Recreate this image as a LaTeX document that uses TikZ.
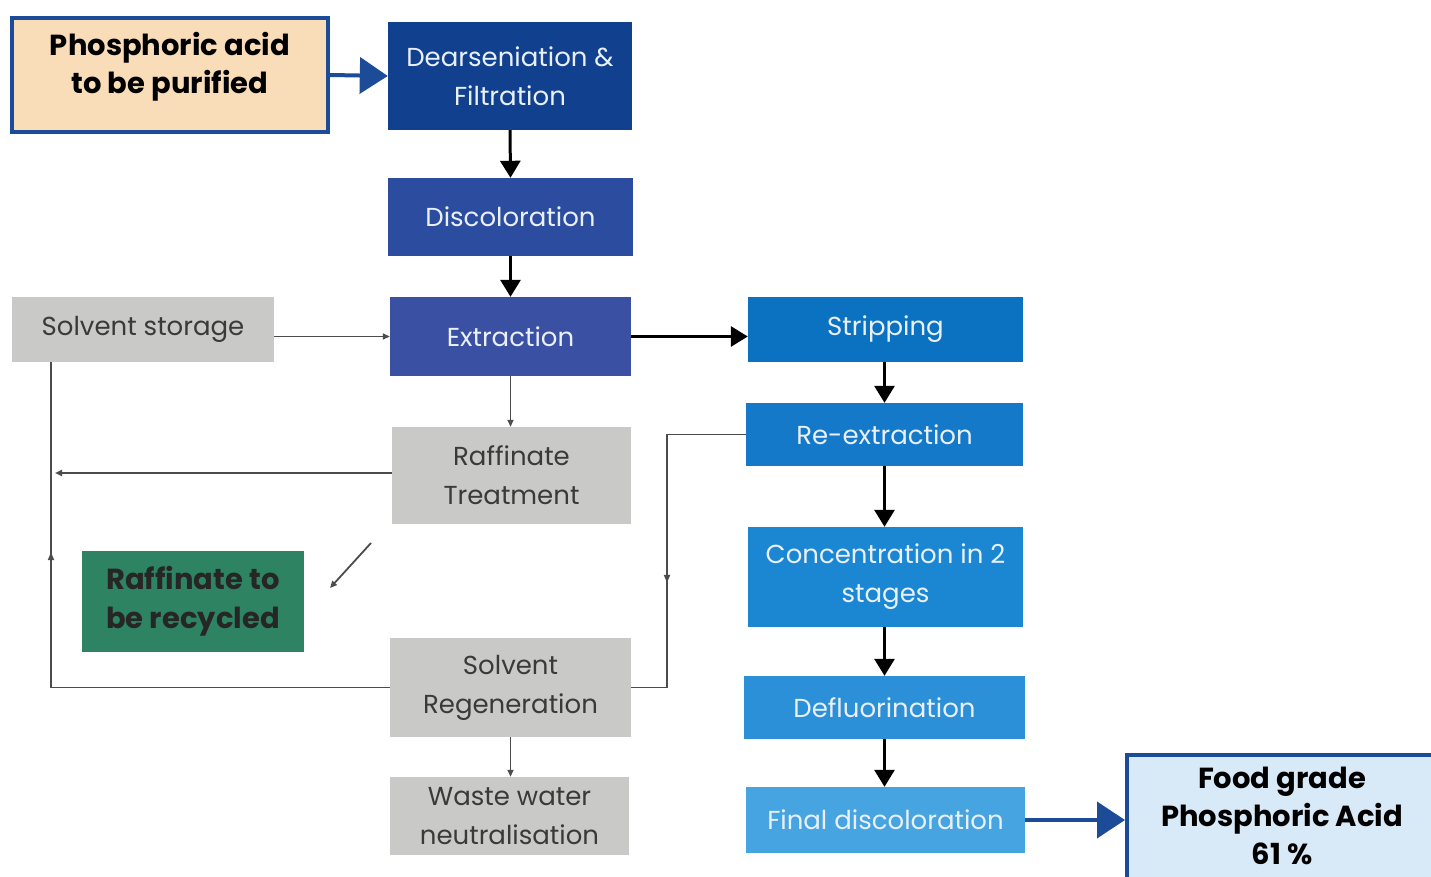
\documentclass[tikz,border=0pt]{standalone}
\usepackage{fontspec}
\setmainfont{Poppins}
\usetikzlibrary{arrows.meta,decorations.markings}
\definecolor{dkblue}{HTML}{1C4B98}
\definecolor{peach}{HTML}{F9DDB9}
\definecolor{cdear}{HTML}{10408E}
\definecolor{cdisc}{HTML}{2C4C9F}
\definecolor{cextr}{HTML}{3A50A2}
\definecolor{cgray}{HTML}{C9C9C7}
\definecolor{cgreen}{HTML}{2E8462}
\definecolor{cstrip}{HTML}{0B72C2}
\definecolor{creext}{HTML}{1479C8}
\definecolor{cconc}{HTML}{1B87D3}
\definecolor{cdefl}{HTML}{2B90D8}
\definecolor{cfinal}{HTML}{46A4E1}
\definecolor{cfood}{HTML}{D8E9F7}
\definecolor{gtext}{HTML}{3A3A3A}
\definecolor{ltext}{HTML}{EAF0FA}
\tikzset{
  box/.style={rectangle, inner sep=0pt, align=center, font=\fontsize{26}{39}\selectfont},
  bluebox/.style={box, text=ltext},
  graybox/.style={box, fill=cgray, text=gtext},
  keybox/.style={box, draw=dkblue, line width=4pt, text=black},
  keytext/.style={inner sep=0pt, align=center, text=black, font=\fontsize{29}{38}\selectfont\bfseries},
  thick arrow/.style={line width=3pt, -{Triangle[length=17pt,width=20pt]}},
  blue arrow/.style={line width=4pt, draw=dkblue, -{Triangle[length=28pt,width=36pt]}},
  thin line/.style={line width=1.8pt, draw=black!70},
  thin arrow/.style={thin line, -{Triangle[length=7pt,width=6pt]}},
  midarrow/.style={postaction={decorate}, decoration={markings, mark=at position #1 with {\arrow{Triangle[length=8pt,width=6pt]}}}}
}
\begin{document}
\begin{tikzpicture}[x=1pt,y=-1pt]
\useasboundingbox (0,0) rectangle (1431,877);
% nodes
\node[keybox, fill=peach, minimum width=316pt, minimum height=114pt] (phos) at (170,75) {};
\node[keytext] (phost) at (170,67) {Phosphoric acid\\to be purified};
\node[bluebox, fill=cdear, minimum width=244pt, minimum height=108pt] (dear) at (510,76) {Dearseniation \&\\Filtration};
\node[bluebox, fill=cdisc, minimum width=245pt, minimum height=78pt] (disc) at (510.5,217) {Discoloration};
\node[bluebox, fill=cextr, minimum width=241pt, minimum height=79pt] (extr) at (510.5,336.5) {Extraction};
\node[graybox, minimum width=262pt, minimum height=65pt] (sstor) at (143,329.5) {Solvent storage};
\node[graybox, minimum width=239pt, minimum height=97pt] (raff) at (511.5,475.5) {Raffinate\\Treatment};
\node[box, fill=cgreen, text=black!85, font=\fontsize{29}{39}\selectfont\bfseries, minimum width=222pt, minimum height=101pt] (green) at (193,601.5) {Raffinate to\\be recycled};
\node[graybox, minimum width=241pt, minimum height=99pt] (sregen) at (510.5,687.5) {Solvent\\Regeneration};
\node[graybox, minimum width=239pt, minimum height=78pt] (waste) at (509.5,816) {Waste water\\neutralisation};
\node[bluebox, fill=cstrip, minimum width=275pt, minimum height=65pt] (strip) at (885.5,329.5) {Stripping};
\node[bluebox, fill=creext, minimum width=277pt, minimum height=63pt] (reext) at (884.5,434.5) {Re-extraction};
\node[bluebox, fill=cconc, minimum width=275pt, minimum height=100pt] (conc) at (885.5,577) {Concentration in 2\\stages};
\node[bluebox, fill=cdefl, minimum width=281pt, minimum height=63pt] (defl) at (884.5,707.5) {Defluorination};
\node[bluebox, fill=cfinal, minimum width=279pt, minimum height=66pt] (final) at (885.5,820) {Final discoloration};
\node[keybox, fill=cfood, minimum width=310pt, minimum height=134pt] (food) at (1282,822) {};
\node[keytext] (foodt) at (1282,816) {Food grade\\Phosphoric Acid\\61 \%};
% coordinates
\coordinate (cl) at (51,687.5);
\coordinate (cr) at (667,434.5);
\coordinate (d1) at (371,543);
\coordinate (d2) at (330,588);
\coordinate (ra) at (55,473);
% connectors
\draw[blue arrow] (phos.east) -- (dear.west);
\draw[thick arrow] (dear.south) -- (disc.north);
\draw[thick arrow] (disc.south) -- (extr.north);
\draw[thick arrow] (extr.east) -- (strip.west |- extr.east);
\draw[thick arrow] (strip.south -| reext.north) -- (reext.north);
\draw[thick arrow] (reext.south) -- (reext.south |- conc.north);
\draw[thick arrow] (conc.south -| defl.north) -- (defl.north);
\draw[thick arrow] (defl.south) -- (defl.south |- final.north);
\draw[blue arrow] (final.east) -- (food.west |- final.east);
\draw[thin arrow] (sstor.east |- extr.west) -- (extr.west);
\draw[thin arrow] (extr.south) -- (extr.south |- raff.north);
\draw[thin arrow] (raff.west |- ra) -- (ra);
\draw[thin line, midarrow=0.714] (sregen.west) -- (cl) -- (cl |- sstor.south);
\draw[thin line, midarrow=0.618] (reext.west) -- (cr) -- (cr |- sregen.east) -- (sregen.east);
\draw[thin arrow] (d1) -- (d2);
\draw[thin arrow] (sregen.south) -- (sregen.south |- waste.north);
\end{tikzpicture}
\end{document}
